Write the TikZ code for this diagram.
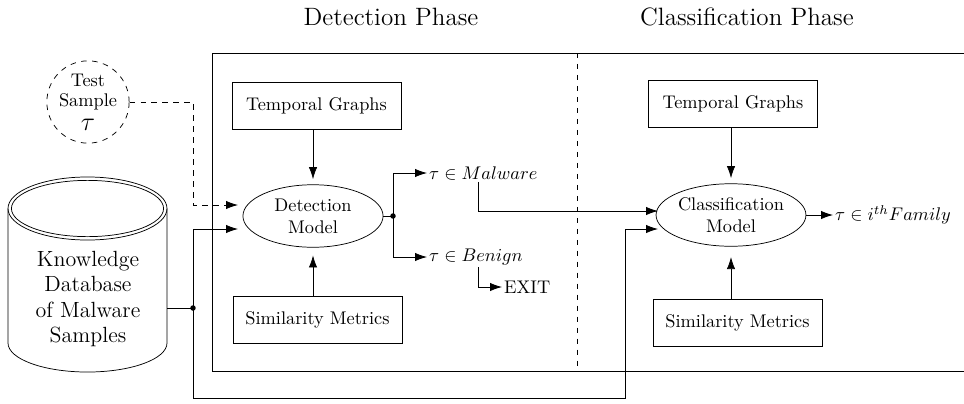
\documentclass[tikz,border=0pt]{standalone}
\usetikzlibrary{arrows.meta,shapes.geometric}
\begin{document}
\begin{tikzpicture}[x=0.0192cm,y=-0.0192cm,
        >={Latex[length=2.3mm,width=1.6mm]},
        box/.style={draw,minimum width=3.24cm,minimum height=0.9cm},
        model/.style={draw,ellipse,minimum width=2.69cm,minimum height=1.2cm,inner sep=0pt,align=center},
        phase/.style={font=\fontsize{13.7}{16}\selectfont},
        outcome/.style={anchor=west,inner sep=1pt}]
        \useasboundingbox (0,0) rectangle (964,403);

        % Phase titles
        \node[phase] (dettitle) at (391,17) {Detection Phase};
        \node[phase] (clstitle) at (747,17) {Classification Phase};

        % Frame and divider
        \draw (964,53) -- (212,53) -- (212,371) -- (964,371);
        \draw[dashed] (577,53) -- (577,371);

        % Test sample
        \node[draw,dashed,circle,minimum size=1.58cm,inner sep=0pt,align=center] (test) at (88,102) {Test\\[-1pt]Sample\\[1pt]{\Large $\tau$}};

        % Knowledge database
        \draw (8,208.5) -- (8,343) arc[start angle=180,end angle=360,x radius=1.526cm,y radius=0.557cm] -- (167,208.5);
        \draw (87.5,208.5) ellipse [x radius=1.526cm,y radius=0.605cm];
        \draw (87.5,208.5) ellipse [x radius=1.46cm,y radius=0.54cm];
        \node[align=center,font=\large] (kdb) at (88,299) {Knowledge\\Database\\of Malware\\Samples};

        % Detection phase
        \node[box] (tg1) at (316.5,106) {Temporal Graphs};
        \node[model] (detect) at (313,216) {Detection\\Model};
        \node[box] (sm1) at (317.5,319.5) {Similarity Metrics};
        \draw[->,shorten >=1mm] (tg1.south -| detect.north) -- (detect.north);
        \draw[->,shorten >=1.5mm] (sm1.north -| detect.south) -- (detect.south);

        \coordinate (dsplit) at (393,216);
        \draw (detect.east) -- (dsplit);
        \fill (dsplit) circle (1.5pt);
        \node[outcome] (mal) at (427,173) {$\tau \in Malware$};
        \node[outcome] (ben) at (427,257) {$\tau \in Benign$};
        \node[outcome] (exit) at (502,287) {EXIT};
        \draw[->] (dsplit) |- (mal.west);
        \draw[->] (dsplit) |- (ben.west);
        \draw[->] ([xshift=0.04cm]ben.south) |- (exit.west);

        % Classification phase
        \node[box] (tg2) at (733,103.5) {Temporal Graphs};
        \node[model] (classify) at (731,215) {Classification\\Model};
        \node[box] (sm2) at (737.5,322.5) {Similarity Metrics};
        \draw[->,shorten >=1mm] (tg2.south -| classify.north) -- (classify.north);
        \draw[->,shorten >=2mm] (sm2.north -| classify.south) -- (classify.south);
        \node[outcome] (fam) at (833,215) {$\tau \in i^{th}Family$};
        \draw[->] (classify.east) -- (fam.west);

        \coordinate (cin1) at (658,211);
        \coordinate (cin2) at (658,229);
        \draw[->] ([xshift=-0.1cm]mal.south) |- (cin1);

        % Inputs to both models
        \coordinate (kdbr) at (167,308);
        \coordinate (ksplit) at (193,308);
        \coordinate (din1) at (238,205);
        \coordinate (din2) at (238,229);
        \coordinate (loop) at (625,398);
        \draw (kdbr) -- (ksplit);
        \fill (ksplit) circle (1.5pt);
        \draw[->] (ksplit) |- (din2);
        \draw[->] (ksplit) |- (loop) |- (cin2);
        \draw[dashed,->] (test.east) -| (ksplit |- din1) -- (din1);
    \end{tikzpicture}
\end{document}
